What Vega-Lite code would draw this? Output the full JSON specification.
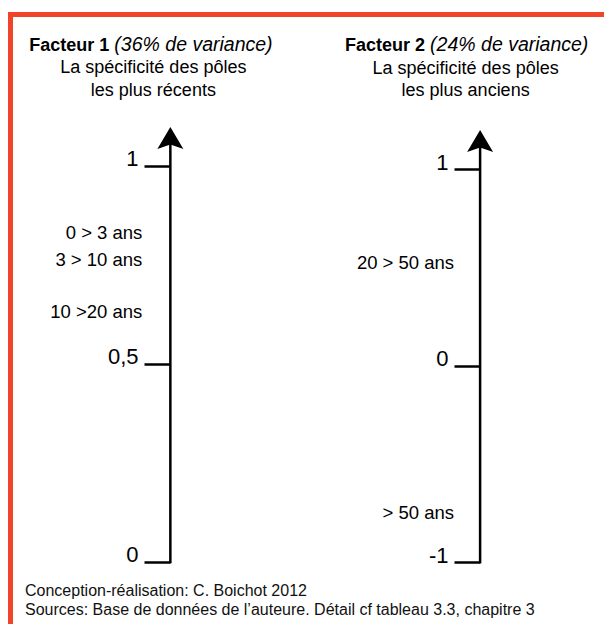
{
  "$schema": "https://vega.github.io/schema/vega-lite/v6.json",
  "width": 604,
  "height": 624,
  "padding": 0,
  "autosize": {"type": "none"},
  "background": "white",
  "config": {
    "view": {"stroke": null},
    "font": "Liberation Sans",
    "text": {"font": "Liberation Sans", "color": "black"}
  },
  "resolve": {"scale": {"y": "independent"}, "axis": {"y": "independent"}},
  "layer": [
    {
      "layer": [
        {
          "data": {"values": [
            {"x": 0.4758, "x2": 2.4, "y": 1.3826, "y2": 1.3826},
            {"x": 0.4839, "x2": 0.4839, "y": 1.3889, "y2": -0.1566}
          ]},
          "mark": {"type": "rule", "color": "#F0432A", "strokeWidth": 5},
          "encoding": {
            "x": {"field": "x", "type": "quantitative", "scale": {"domain": [0.45, 2.4], "nice": false, "zero": false}, "axis": null},
            "x2": {"field": "x2"},
            "y": {"field": "y", "type": "quantitative", "scale": {"domain": [-0.1566, 1.4192], "nice": false, "zero": false},
              "axis": {"orient": "left", "offset": -170, "values": [0, 0.5, 1], "domain": false, "grid": false, "title": null,
                "ticks": true, "tickSize": 26, "tickWidth": 2.5, "tickColor": "black",
                "labelFont": "Liberation Sans", "labelFontSize": 22, "labelColor": "black", "labelPadding": 6,
                "labelBaseline": "alphabetic", "labelExpr": "replace(toString(datum.value), '.', ',')"}},
            "y2": {"field": "y2"}
          }
        },
        {
          "data": {"values": [{"col": 1, "lo": 0, "hi": 1.0657}]},
          "mark": {"type": "rule", "color": "black", "strokeWidth": 2.5, "strokeCap": "square"},
          "encoding": {
            "x": {"field": "col", "type": "quantitative"},
            "y": {"field": "lo", "type": "quantitative"},
            "y2": {"field": "hi"}
          }
        },
        {
          "data": {"values": [{"col": 1, "tip": 1.0657}]},
          "mark": {"type": "point", "shape": "M0,-1L1,0.7L0,0.35L-1,0.7Z", "size": 676, "filled": true, "color": "black", "opacity": 1},
          "encoding": {
            "x": {"field": "col", "type": "quantitative"},
            "y": {"field": "tip", "type": "quantitative"}
          }
        },
        {
          "data": {"values": [
            {"col": 1, "score": 0.831, "label": "0 > 3 ans"},
            {"col": 1, "score": 0.763, "label": "3 > 10 ans"},
            {"col": 1, "score": 0.631, "label": "10 >20 ans"}
          ]},
          "mark": {"type": "text", "align": "right", "baseline": "middle", "dx": -28, "fontSize": 18.5},
          "encoding": {
            "x": {"field": "col", "type": "quantitative"},
            "y": {"field": "score", "type": "quantitative"},
            "text": {"field": "label"}
          }
        },
        {
          "data": {"values": [{"col": 1, "y": 1.2904, "text": "Facteur 1"}]},
          "mark": {"type": "text", "align": "right", "baseline": "alphabetic", "dx": -61, "fontSize": 18, "fontWeight": "bold"},
          "encoding": {
            "x": {"field": "col", "type": "quantitative"},
            "y": {"field": "y", "type": "quantitative"},
            "text": {"field": "text"}
          }
        },
        {
          "data": {"values": [{"col": 1, "y": 1.2904, "text": "(36% de variance)"}]},
          "mark": {"type": "text", "align": "left", "baseline": "alphabetic", "dx": -56, "fontSize": 19.5, "fontStyle": "italic"},
          "encoding": {
            "x": {"field": "col", "type": "quantitative"},
            "y": {"field": "y", "type": "quantitative"},
            "text": {"field": "text"}
          }
        },
        {
          "data": {"values": [
            {"col": 1, "y": 1.2336, "text": "La spécificité des pôles"},
            {"col": 1, "y": 1.178, "text": "les plus récents"}
          ]},
          "mark": {"type": "text", "align": "center", "baseline": "alphabetic", "dx": -17, "fontSize": 18},
          "encoding": {
            "x": {"field": "col", "type": "quantitative"},
            "y": {"field": "y", "type": "quantitative"},
            "text": {"field": "text"}
          }
        },
        {
          "data": {"values": [
            {"col": 0.5307, "y": -0.0859, "text": "Conception-réalisation: C. Boichot 2012"},
            {"col": 0.5307, "y": -0.1338, "text": "Sources: Base de données de l’auteure. Détail cf tableau 3.3, chapitre 3"}
          ]},
          "mark": {"type": "text", "align": "left", "baseline": "alphabetic", "fontSize": 16, "color": "#111"},
          "encoding": {
            "x": {"field": "col", "type": "quantitative"},
            "y": {"field": "y", "type": "quantitative"},
            "text": {"field": "text"}
          }
        }
      ]
    },
    {
      "layer": [
        {
          "data": {"values": [{"col": 2, "lo": -1, "hi": 1.1323}]},
          "mark": {"type": "rule", "color": "black", "strokeWidth": 2.5, "strokeCap": "square"},
          "encoding": {
            "x": {"field": "col", "type": "quantitative", "scale": {"domain": [0.45, 2.4], "nice": false, "zero": false}, "axis": null},
            "y": {"field": "lo", "type": "quantitative", "scale": {"domain": [-1.3155, 1.8601], "nice": false, "zero": false},
              "axis": {"orient": "left", "offset": -480, "values": [-1, 0, 1], "domain": false, "grid": false, "title": null,
                "ticks": true, "tickSize": 26, "tickWidth": 2.5, "tickColor": "black",
                "labelFont": "Liberation Sans", "labelFontSize": 22, "labelColor": "black", "labelPadding": 6,
                "labelBaseline": "alphabetic", "labelExpr": "replace(toString(datum.value), '.', ',')"}},
            "y2": {"field": "hi"}
          }
        },
        {
          "data": {"values": [{"col": 2, "tip": 1.1323}]},
          "mark": {"type": "point", "shape": "M0,-1L1,0.7L0,0.35L-1,0.7Z", "size": 676, "filled": true, "color": "black", "opacity": 1},
          "encoding": {
            "x": {"field": "col", "type": "quantitative"},
            "y": {"field": "tip", "type": "quantitative"}
          }
        },
        {
          "data": {"values": [
            {"col": 2, "score": 0.522, "label": "20 > 50 ans"},
            {"col": 2, "score": -0.751, "label": "> 50 ans"}
          ]},
          "mark": {"type": "text", "align": "right", "baseline": "middle", "dx": -26, "fontSize": 18.5},
          "encoding": {
            "x": {"field": "col", "type": "quantitative"},
            "y": {"field": "score", "type": "quantitative"},
            "text": {"field": "label"}
          }
        },
        {
          "data": {"values": [{"col": 2, "y": 1.6005, "text": "Facteur 2"}]},
          "mark": {"type": "text", "align": "right", "baseline": "alphabetic", "dx": -55, "fontSize": 18, "fontWeight": "bold"},
          "encoding": {
            "x": {"field": "col", "type": "quantitative"},
            "y": {"field": "y", "type": "quantitative"},
            "text": {"field": "text"}
          }
        },
        {
          "data": {"values": [{"col": 2, "y": 1.6005, "text": "(24% de variance)"}]},
          "mark": {"type": "text", "align": "left", "baseline": "alphabetic", "dx": -50, "fontSize": 19.5, "fontStyle": "italic"},
          "encoding": {
            "x": {"field": "col", "type": "quantitative"},
            "y": {"field": "y", "type": "quantitative"},
            "text": {"field": "text"}
          }
        },
        {
          "data": {"values": [
            {"col": 2, "y": 1.486, "text": "La spécificité des pôles"},
            {"col": 2, "y": 1.374, "text": "les plus anciens"}
          ]},
          "mark": {"type": "text", "align": "center", "baseline": "alphabetic", "dx": -14.5, "fontSize": 18},
          "encoding": {
            "x": {"field": "col", "type": "quantitative"},
            "y": {"field": "y", "type": "quantitative"},
            "text": {"field": "text"}
          }
        }
      ]
    }
  ]
}
